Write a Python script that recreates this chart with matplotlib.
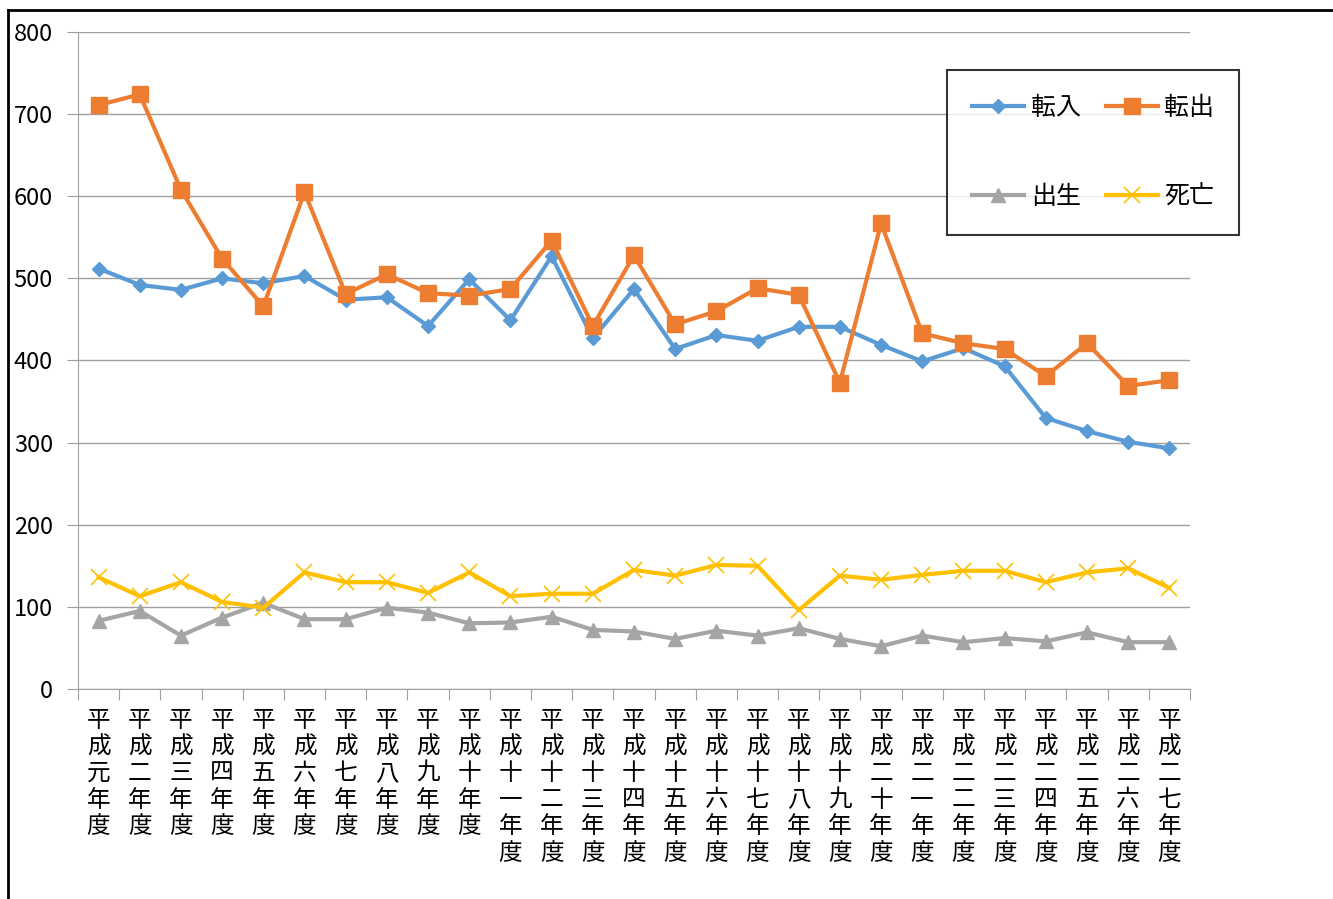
import numpy as np
import matplotlib
matplotlib.use("Agg")
import matplotlib.pyplot as plt
from matplotlib.lines import Line2D

plt.rcParams['font.family'] = ['Noto Sans CJK JP', 'DejaVu Sans']

# fiscal years (Heisei), labels as written on the chart
years = ["平成元年度", "平成二年度", "平成三年度", "平成四年度", "平成五年度",
         "平成六年度", "平成七年度", "平成八年度", "平成九年度", "平成十年度",
         "平成十一年度", "平成十二年度", "平成十三年度", "平成十四年度", "平成十五年度",
         "平成十六年度", "平成十七年度", "平成十八年度", "平成十九年度", "平成二十年度",
         "平成二一年度", "平成二二年度", "平成二三年度", "平成二四年度", "平成二五年度",
         "平成二六年度", "平成二七年度"]

tennyu = [512, 492, 486, 500, 494, 503, 474, 477, 442, 499, 449, 527, 427, 487,
          414, 431, 424, 441, 441, 419, 399, 415, 393, 330, 314, 301, 293]
tenshutsu = [711, 724, 608, 524, 466, 605, 481, 505, 482, 479, 487, 546, 442, 528,
             444, 460, 488, 480, 373, 567, 433, 421, 414, 381, 421, 369, 376]
shussei = [83, 95, 65, 87, 105, 85, 85, 99, 93, 80, 81, 88, 72, 70,
           61, 71, 65, 74, 61, 52, 65, 57, 62, 58, 69, 57, 57]
shibou = [136, 113, 130, 106, 99, 142, 130, 130, 117, 142, 113, 116, 116, 145,
          138, 151, 150, 96, 138, 133, 139, 144, 144, 130, 142, 147, 123]

fig = plt.figure(figsize=(13.33, 8.99), dpi=100)
ax = fig.add_axes([0.0585, 0.2336, 0.8342, 0.7308])

x = np.arange(len(years))
l1, = ax.plot(x, tennyu, color='#5B9BD5', lw=3, marker='D', ms=7, label='転入')
l2, = ax.plot(x, tenshutsu, color='#ED7D31', lw=3, marker='s', ms=11, label='転出')
l3, = ax.plot(x, shussei, color='#A5A5A5', lw=3, marker='^', ms=10, label='出生')
l4, = ax.plot(x, shibou, color='#FFC000', lw=3, marker='x', ms=11, mew=1.2, label='死亡')

ax.set_xlim(-0.5, len(years) - 0.5)
ax.set_ylim(0, 800)
ax.set_yticks(range(0, 801, 100))
ax.tick_params(axis='y', labelsize=17, length=8, color='#A0A0A0', pad=10)
ax.grid(axis='y', color='#A0A0A0', lw=1)
ax.set_axisbelow(True)

# category ticks sit between categories, labels are stacked vertically
ax.set_xticks(np.arange(len(years) + 1) - 0.5)
ax.set_xticklabels([])
ax.tick_params(axis='x', length=8, color='#A0A0A0')
for i, lab in enumerate(years):
    ax.text(i, -24, "\n".join(lab), ha='center', va='top', fontsize=17,
            linespacing=1.2)

for s in ['top', 'right']:
    ax.spines[s].set_visible(False)
for s in ['left', 'bottom']:
    ax.spines[s].set_color('#A0A0A0')

# row-major order: matplotlib fills legend columns first
leg = fig.legend([l1, l3, l2, l4], ['転入', '出生', '転出', '死亡'],
                 loc='upper left', bbox_to_anchor=(0.7104, 0.9221), ncol=2,
                 fontsize=18, frameon=True, fancybox=False, edgecolor='black',
                 labelspacing=2.5, handlelength=2.1, columnspacing=1.0,
                 handletextpad=0.25, borderpad=1.0, borderaxespad=0)
leg.get_frame().set_linewidth(1.5)

# outer frame (top and left edges visible)
fig.add_artist(Line2D([0.006, 0.006], [0, 0.989], color='black', lw=2))
fig.add_artist(Line2D([0.006, 1.0], [0.989, 0.989], color='black', lw=2))

plt.savefig("out.png", dpi=100)
